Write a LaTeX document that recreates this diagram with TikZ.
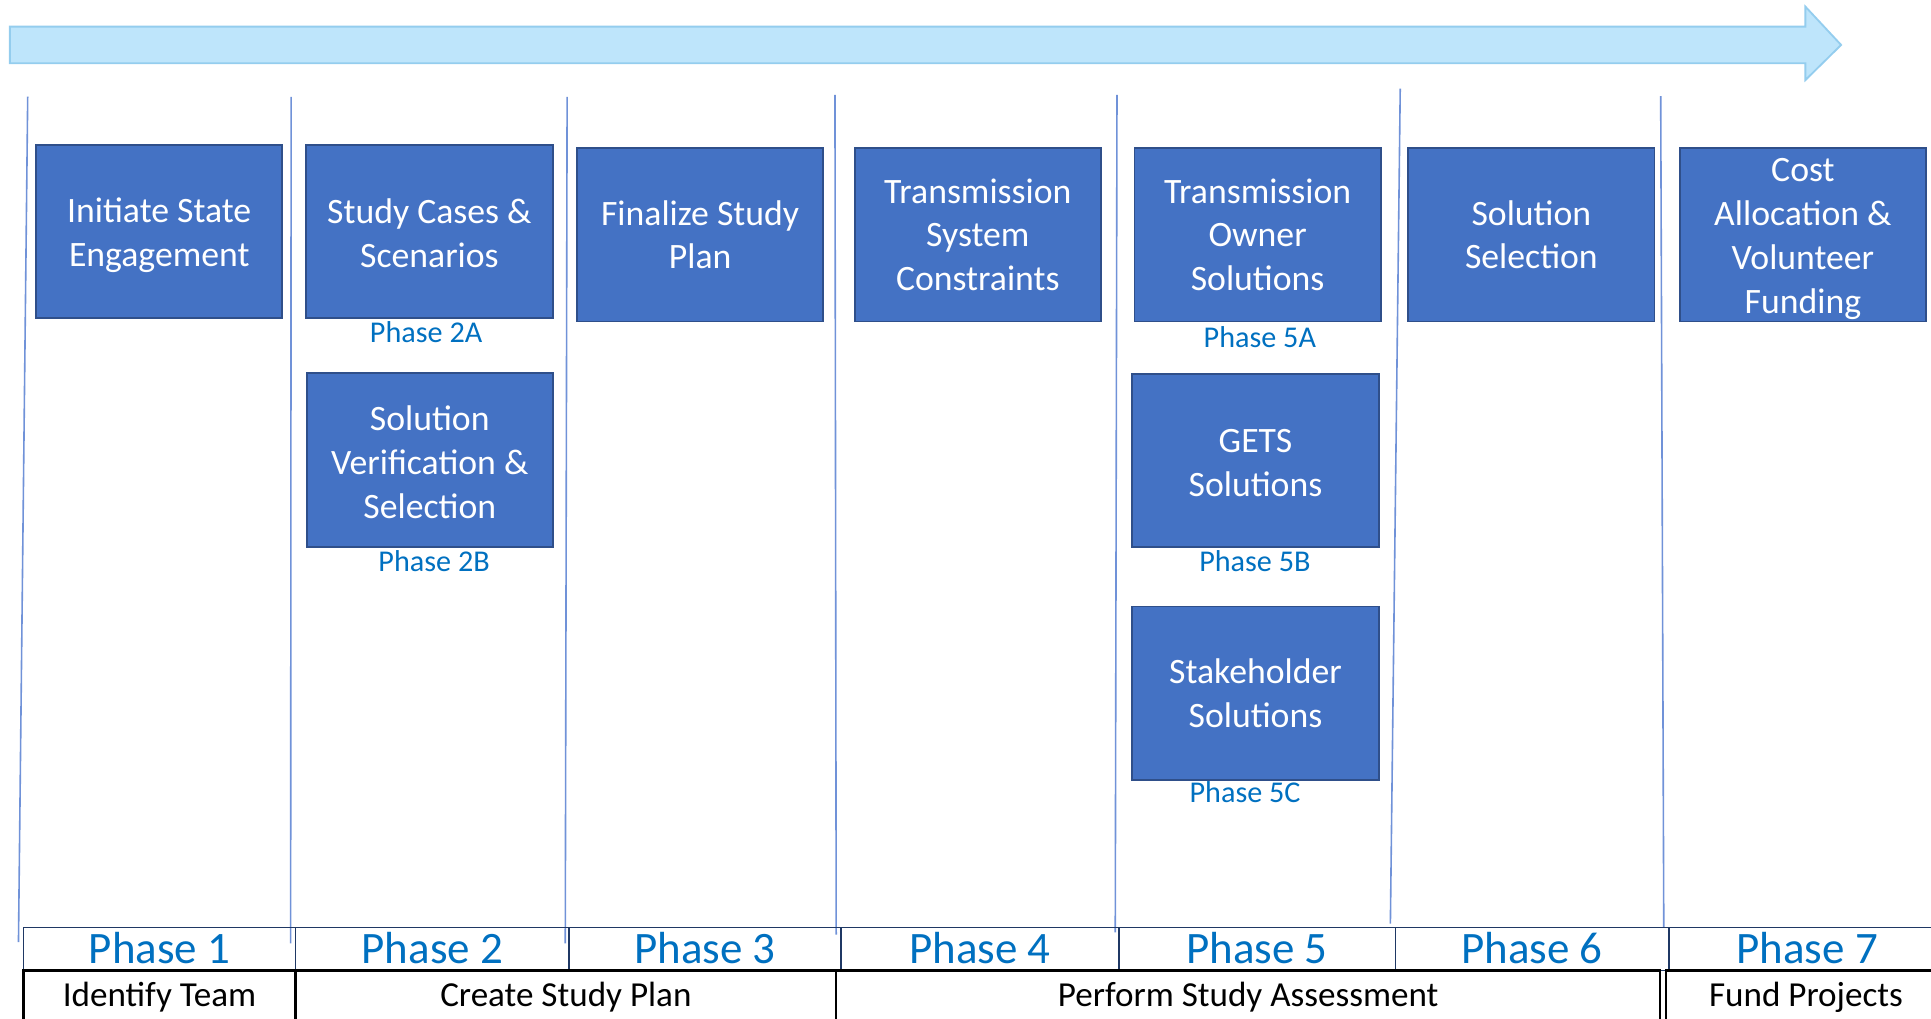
\documentclass[tikz,border=0pt]{standalone}
\usepackage{fontspec}
\setmainfont{Carlito}
\definecolor{boxfill}{HTML}{4472C4}
\definecolor{boxline}{HTML}{2F4F8A}
\definecolor{arrowfill}{HTML}{BEE5FB}
\definecolor{arrowline}{HTML}{94CDEE}
\definecolor{sepline}{HTML}{7092D8}
\definecolor{phaseblue}{HTML}{0070C0}
\definecolor{navy}{HTML}{1F3864}
\begin{document}
\begin{tikzpicture}[x=1pt,y=-1pt,
 stepbox/.style={draw=boxline, fill=boxfill, line width=1.5pt, minimum width=200pt, minimum height=141pt, inner sep=0pt, text=white, align=center, font=\fontsize{29}{35.5}\selectfont},
 sublabel/.style={text=phaseblue, font=\fontsize{24.5}{29}\selectfont, anchor=base, inner sep=0pt},
 sep/.style={draw=sepline, line width=1.3pt},
 phasecell/.style={draw=navy, line width=1.3pt, minimum height=35pt, inner sep=0pt, text=phaseblue, font=\fontsize{36.5}{44}\selectfont, text height=23pt, text depth=0pt},
 taskcell/.style={draw=black, line width=1.8pt, minimum height=52pt, inner sep=0pt, font=\fontsize{28.5}{34}\selectfont, text height=20pt, text depth=14pt},
]
\useasboundingbox (0,0) rectangle (1568,827);

% timeline arrow
\draw[fill=arrowfill, draw=arrowline, line width=1.5pt, line join=miter]
  (8,21.6) -- (1466,21.6) -- (1466,5.4) -- (1495,36.5) -- (1466,65) -- (1466,51.4) -- (8,51.4) -- cycle;

% separators
\draw[sep] (22.5,78.5) -- (15,765);
\draw[sep] (236.4,78.6) -- (236,766);
\draw[sep] (460.5,78.6) -- (459,766);
\draw[sep] (678,77) -- (679,759);
\draw[sep] (907,77) -- (905.6,757);
\draw[sep] (1137,72) -- (1129,750);
\draw[sep] (1348.5,78) -- (1351,753);

% boxes
\node[stepbox] (b1) at (129.3,188) {};
\node[white, align=center, font=\fontsize{29}{35.5}\selectfont, inner sep=0pt] (b1t) at (129.3,191) {Initiate State\\Engagement};
\node[stepbox] (b2a) at (348.7,188) {};
\node[white, align=center, font=\fontsize{29}{35.5}\selectfont, inner sep=0pt] (b2at) at (348.7,189.5) {Study Cases \&\\Scenarios};
\node[stepbox] (b2b) at (349,373.7) {};
\node[white, align=center, font=\fontsize{29}{35.5}\selectfont, inner sep=0pt] (b2bt) at (349,375.5) {Solution\\Verification \&\\Selection};
\node[stepbox] (b3) at (568.5,190.5) {Finalize Study\\Plan};
\node[stepbox] (b4) at (794,190.5) {Transmission\\System\\Constraints};
\node[stepbox] (b5a) at (1021.2,190.5) {Transmission\\Owner\\Solutions};
\node[stepbox] (b5b) at (1019.5,374) {};
\node[white, align=center, font=\fontsize{29}{35.5}\selectfont, inner sep=0pt] (b5bt) at (1019.5,376) {GETS\\Solutions};
\node[stepbox] (b5c) at (1019.5,563) {Stakeholder\\Solutions};
\node[stepbox] (b6) at (1243.5,190.5) {Solution\\Selection};
\node[stepbox] (b7) at (1464,190.5) {};
\node[white, align=center, font=\fontsize{29}{35.5}\selectfont, inner sep=0pt] (b7t) at (1464,194) {Cost\\Allocation \&\\Volunteer\\Funding};

% sub-phase labels
\node[sublabel] (l2a) at (346,278) {Phase 2A};
\node[sublabel] (l2b) at (352.5,464) {Phase 2B};
\node[sublabel] (l5a) at (1023,282.5) {Phase 5A};
\node[sublabel] (l5b) at (1019,464) {Phase 5B};
\node[sublabel] (l5c) at (1011,652) {Phase 5C};

% table row 1
\node[phasecell, minimum width=221pt] (p1) at (129.5,770.5) {Phase 1};
\node[phasecell, minimum width=222pt] (p2) at (351,770.5) {Phase 2};
\node[phasecell, minimum width=221pt] (p3) at (572.5,770.5) {Phase 3};
\node[phasecell, minimum width=225.6pt] (p4) at (795.8,770.5) {Phase 4};
\node[phasecell, minimum width=224.4pt] (p5) at (1020.8,770.5) {Phase 5};
\node[phasecell, minimum width=222pt] (p6) at (1244,770.5) {Phase 6};
\node[phasecell, minimum width=225pt] (p7) at (1467.5,770.5) {Phase 7};

% table row 2
\node[taskcell, minimum width=221pt] (t1) at (129.5,814) {Identify Team};
\node[taskcell, minimum width=439pt] (t2) at (459.5,814) {Create Study Plan};
\node[taskcell, minimum width=669pt] (t3) at (1013.5,814) {Perform Study Assessment};
\node[taskcell, minimum width=227pt] (t4) at (1466.5,814) {Fund Projects};
\end{tikzpicture}
\end{document}
